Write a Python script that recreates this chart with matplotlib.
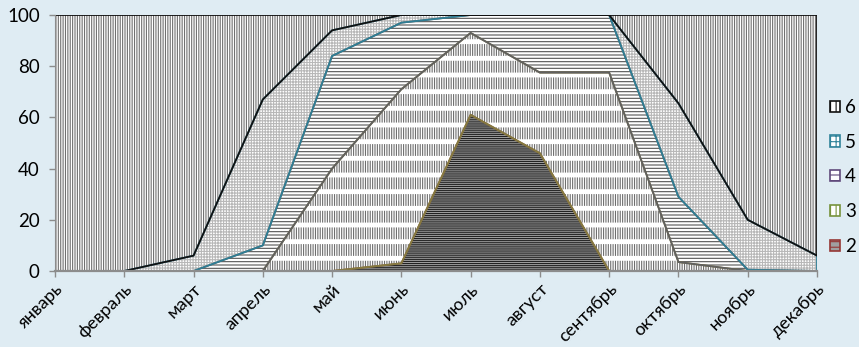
import numpy as np
import matplotlib.pyplot as plt
from matplotlib.patches import Patch

plt.rcParams['font.family'] = ['Lato', 'Open Sans', 'DejaVu Sans']
plt.rcParams['hatch.linewidth'] = 0.8

months = ['январь', 'февраль', 'март', 'апрель', 'май', 'июнь',
          'июль', 'август', 'сентябрь', 'октябрь', 'ноябрь', 'декабрь']

# values of each series per month (stacked to 100)
s2 = [0, 0, 0, 0, 0, 3, 61, 46, 0, 0, 0, 0]
s3 = [0, 0, 0, 0, 40, 68, 32, 31.5, 77.5, 3.5, 0, 0]
s4 = [0, 0, 0, 10, 44, 26, 7, 22.5, 22.5, 25.5, 0.5, 0]
s5 = [0, 0, 6, 57, 10, 3, 0, 0, 0, 36.5, 19.5, 6]
s6 = [100, 100, 94, 33, 6, 0, 0, 0, 0, 34.5, 80, 94]

names = ['2', '3', '4', '5', '6']
series = [s2, s3, s4, s5, s6]

# face, hatch colour, hatch, line in chart, legend border
styles = {
    '2': ('#a0a0a0', '#222222', '-' * 8, '#8a5a3a', '#953735'),
    '3': ('white', '#6e6e6e', '|' * 7, '#857a40', '#77933c'),
    '4': ('white', '#555555', '-' * 5, '#606060', '#604a7b'),
    '5': ('white', '#b8b8b8', '+' * 6, '#2f7e95', '#31849b'),
    '6': ('white', '#707070', '|' * 7, '#111111', '#111111'),
}

fig = plt.figure(figsize=(8.59, 3.47), dpi=100, facecolor='#dfecf3')
ax = fig.add_axes([55 / 859, 1 - 271 / 347, 762 / 859, 256 / 347])
ax.set_facecolor('white')

x = np.arange(len(months))
base = np.zeros(len(months))
for name, vals in zip(names, series):
    top = base + np.array(vals, dtype=float)
    face, hcol, hatch, edge, _ = styles[name]
    ax.fill_between(x, base, top, facecolor=face, edgecolor=hcol,
                    hatch=hatch, linewidth=0, zorder=1)
    if name == '3':
        # white gaps between the dotted bands
        gaps = ax.fill_between(x, base, top, facecolor='none', edgecolor='white',
                               hatch='-', linewidth=0, zorder=1)
        if hasattr(gaps, 'set_hatch_linewidth'):
            gaps.set_hatch_linewidth(3.5)
    # border of the area polygon
    ax.fill_between(x, base, top, facecolor='none', edgecolor=edge,
                    linewidth=1.3, zorder=1.1)
    base = top

ax.set_xlim(0, len(months) - 1)
ax.set_ylim(0, 100)
ax.set_yticks([0, 20, 40, 60, 80, 100])
ax.set_xticks(x)
ax.set_xticklabels(months, rotation=45, ha='right', rotation_mode='anchor')

for s in ['top', 'right']:
    ax.spines[s].set_visible(False)
for s in ['bottom', 'left']:
    ax.spines[s].set_color('#8c8c8c')
    ax.spines[s].set_zorder(3)
ax.spines['bottom'].set_linewidth(1.6)
ax.tick_params(axis='both', colors='#8c8c8c', labelcolor='black',
               labelsize=13.5, length=4, width=1)
ax.tick_params(axis='y', pad=7)
ax.tick_params(axis='x', labelsize=13, pad=3)

handles = []
for name in reversed(names):
    face, hcol, hatch, _, edge = styles[name]
    handles.append(Patch(facecolor=face, edgecolor=edge, hatch=hatch[:3],
                         linewidth=1.2, label=name))
fig.legend(handles=handles, loc='center left', bbox_to_anchor=(830 / 859, 0.49),
           frameon=False, fontsize=13.5, handlelength=0.55, handleheight=0.55,
           handletextpad=0.25, labelspacing=0.95, borderpad=0, borderaxespad=0)

fig.savefig('out.png', dpi=100, facecolor=fig.get_facecolor())
